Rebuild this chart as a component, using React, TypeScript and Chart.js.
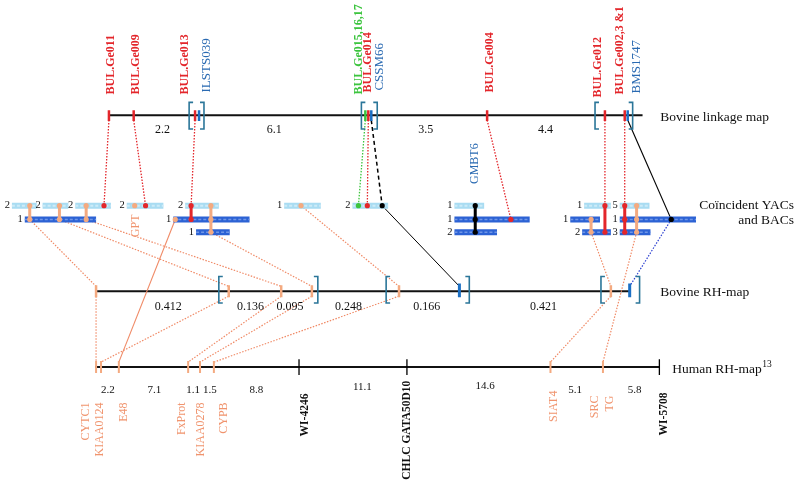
import React, { useEffect, useRef } from "react";
import { Chart, registerables } from "chart.js";
Chart.register(...registerables);

// ---------- track levels (vertical scale values) ----------
const Y_LINK = 113;
const Y_YAC = [205, 219, 232];
const Y_RH = 292;
const Y_HUM = 369;

// ---------- bovine linkage map ----------
const linkageNames = ["BUL.Ge011", "BUL.Ge009", "BUL.Ge013", "ILSTS039", "BUL.Ge015,16,17", "BUL.Ge014", "CSSM66", "BUL.Ge004", "BUL.Ge012", "BUL.Ge002,3 &1", "BMS1747"];
const linkagePos = [106, 131, 193, 197, 365, 368, 371, 488, 607, 627, 630];
const linkageKind = ["r", "r", "r", "b", "g", "r", "b", "r", "r", "r", "b"];
const linkageLabelX = [108, 133, 183, 205, 358, 368, 379, 491, 600, 622, 639];
const linkageLabelBase = [92, 92, 92, 90, 92, 90, 88, 90, 95, 92, 91];
const linkageRange = [106, 645];
const linkageBrackets = [[187, 202], [361, 377], [597, 635]];
const linkageDist = ["2.2", "6.1", "3.5", "4.4"];
const linkageDistX = [160, 273, 426, 547];

// ---------- coincident YACs and BACs ----------
const barStart = [8, 39, 72, 124, 183, 283, 352, 455, 586, 622, 21, 171, 455, 572, 622, 194, 455, 584, 622];
const barEnd = [33, 65, 108, 161, 217, 320, 388, 485, 613, 652, 93, 248, 531, 602, 699, 228, 498, 613, 653];
const barRow = [0, 0, 0, 0, 0, 0, 0, 0, 0, 0, 1, 1, 1, 1, 1, 2, 2, 2, 2];
const barCount = ["2", "2", "2", "2", "2", "1", "2", "1", "1", "5", "1", "1", "1", "1", "1", "1", "2", "2", "3"];

const orangeDots = [[26, 0], [56, 0], [83, 0], [26, 1], [56, 1], [83, 1], [132, 0], [209, 0], [209, 1], [209, 2], [173, 1], [300, 0], [593, 1], [593, 2], [639, 0], [639, 1], [639, 2]];
const redDots = [[101, 0], [143, 0], [189, 0], [189, 1], [367, 0], [512, 1], [607, 0], [607, 2], [627, 0], [627, 1], [627, 2]];
const greenDots = [[358, 0]];
const blackDots = [[382, 0], [476, 0], [476, 1], [476, 2], [674, 1]];

// vertical links inside the YAC block: [x, fromRow, toRow]
const orangeRungs = [[26, 0, 1], [56, 0, 1], [83, 0, 1], [209, 0, 2], [593, 1, 2], [639, 0, 2]];
const redRungs = [[189, 0, 1], [607, 0, 2], [627, 0, 2]];
const blackRungs = [[476, 0, 2]];

// linkage -> YAC: [linkage x, yac x, row]
const linkToYacRed = [[106, 101, 0], [131, 143, 0], [193, 189, 0], [368, 367, 0], [488, 512, 1], [607, 607, 0], [627, 627, 0]];
const linkToYacGreen = [[365, 358, 0]];
const linkToYacBlackDash = [[371, 382, 0]];
const linkToYacBlack = [[630, 674, 1]];

// ---------- bovine RH map ----------
const rhRange = [93, 632];
const rhOrangeTicks = [93, 227, 280, 311, 399, 613];
const rhBlueTicks = [460, 632];
const rhBrackets = [[217, 317], [386, 470], [603, 642]];
const rhDist = ["0.412", "0.136", "0.095", "0.248", "0.166", "0.421"];
const rhDistX = [166, 249, 289, 348, 427, 545];

// YAC -> RH: [yac x, row, rh x]
const yacToRhOrange = [[26, 1, 93], [56, 1, 227], [83, 1, 280], [209, 2, 311], [300, 0, 399], [593, 2, 613]];
const yacToRhBlack = [[382, 0, 460]];
const yacToRhBlue = [[674, 1, 632]];
// YAC -> human directly: [yac x, row, human x]
const yacToHumSolid = [[173, 1, 116]];
const yacToHumDotted = [[639, 2, 605]];

// RH -> human: [rh x, human x]
const rhToHum = [[93, 93], [227, 98], [280, 186], [311, 198], [399, 212], [613, 552]];

// ---------- human RH map ----------
const humRange = [92, 662];
const humOrangeTicks = [93, 98, 116, 186, 198, 212, 552, 605];
const humBlackTicks = [298, 407, 662];
const humNames = ["CYTC1", "KIAA0124", "E48", "FxProt", "KIAA0278", "CYPB", "WI-4246", "CHLC GATA50D10", "SIAT4", "SRC", "TG", "WI-5708"];
const humKind = ["o", "o", "o", "o", "o", "o", "k", "k", "o", "o", "o", "k"];
const humLabelX = [83, 97, 121, 180, 199, 222, 304, 407, 555, 597, 612, 667];
const humLabelTop = [405, 405, 405, 405, 405, 405, 396, 383, 393, 398, 398, 395];
const humDist = ["2.2", "7.1", "1.1", "1.5", "8.8", "11.1", "14.6", "5.1", "5.8"];
const humDistX = [105, 152, 191, 208, 255, 362, 486, 577, 637];
const humDistY = [392, 392, 392, 392, 392, 389, 388, 392, 392];

// ---------- colours ----------
const RED = "#e3262b";
const ORANGE = "#f08a66";
const ORANGE_DOT = "#f4aa80";
const ORANGE_TXT = "#f0946e";
const GREEN = "#3cc43e";
const BLUE_TXT = "#2a6ab2";
const TEAL = "#2b7699";
const TICK_BLUE = "#1b6fc4";
const LIGHT_BAR = "#a9dcf2";
const LIGHT_BAR2 = "#cdebf8";
const DARK_BAR = "#2c62d4";
const DARK_BAR2 = "#7096e6";
const SERIF = '"Liberation Serif", "DejaVu Serif", serif';

type P = { x: number | null; y: number | null };
const poly = (lines: number[][]): P[] => {
  const out: P[] = [];
  lines.forEach((l, i) => {
    if (i) out.push({ x: null, y: null });
    for (let k = 0; k < l.length; k += 2) out.push({ x: l[k], y: l[k + 1] });
  });
  return out;
};

const lineDs = (data: P[], color: string, width: number, dash: number[] = [], order = 5, cap: CanvasLineCap = "butt") => ({
  type: "scatter" as const,
  data,
  showLine: true,
  borderColor: color,
  backgroundColor: color,
  borderWidth: width,
  borderDash: dash,
  borderCapStyle: cap,
  pointRadius: 0,
  pointHoverRadius: 0,
  spanGaps: false,
  tension: 0,
  clip: false as any,
  order,
});

const dotDs = (pts: number[][], color: string) => ({
  type: "scatter" as const,
  data: pts.map(([x, r]) => ({ x, y: Y_YAC[r] })),
  showLine: false,
  pointRadius: 2.6,
  pointBorderWidth: 0,
  pointBackgroundColor: color,
  pointBorderColor: color,
  clip: false as any,
  order: 0,
});

const bracketLines = (pairs: number[][], yc: number, up: number, down: number) => {
  const out: number[][] = [];
  pairs.forEach(([a, b]) => {
    out.push([a + 4, yc - up, a, yc - up, a, yc + down, a + 4, yc + down]);
    out.push([b - 4, yc - up, b, yc - up, b, yc + down, b - 4, yc + down]);
  });
  return out;
};

function buildDatasets() {
  const ds: any[] = [];
  // dots
  ds.push(dotDs(orangeDots, ORANGE_DOT));
  ds.push(dotDs(redDots, RED));
  ds.push(dotDs(greenDots, GREEN));
  ds.push(dotDs(blackDots, "#000"));
  // rungs
  const rung = (r: number[][]) => r.map(([x, a, b]) => [x, Y_YAC[a], x, Y_YAC[b]]);
  ds.push(lineDs(poly(rung(orangeRungs)), ORANGE_DOT, 3, [], 1));
  ds.push(lineDs(poly(rung(redRungs)), RED, 3, [], 1));
  ds.push(lineDs(poly(rung(blackRungs)), "#000", 3, [], 1));
  // bars
  const barsOf = (row0: boolean) => barStart.map((s, i) => ({ s, e: barEnd[i], r: barRow[i] })).filter((b) => (row0 ? b.r === 0 : b.r > 0)).map((b) => [b.s, Y_YAC[b.r], b.e, Y_YAC[b.r]]);
  ds.push(lineDs(poly(barsOf(true)), LIGHT_BAR2, 2, [3, 2], 2));
  ds.push(lineDs(poly(barsOf(true)), LIGHT_BAR, 6, [], 3));
  ds.push(lineDs(poly(barsOf(false)), DARK_BAR2, 1.5, [3, 2], 2));
  ds.push(lineDs(poly(barsOf(false)), DARK_BAR, 6, [], 3));
  // linkage ticks
  const kindColor: Record<string, string> = { r: RED, b: TICK_BLUE, g: GREEN };
  ["r", "g", "b"].forEach((k) => {
    const t = linkagePos.filter((_, i) => linkageKind[i] === k).map((x) => [x, Y_LINK - 5, x, Y_LINK + 6]);
    ds.push(lineDs(poly(t), kindColor[k], 2.5, [], 1));
  });
  // RH ticks
  ds.push(lineDs(poly(rhOrangeTicks.map((x) => [x, Y_RH - 6, x, Y_RH + 6])), ORANGE_DOT, 2.5, [], 1));
  ds.push(lineDs(poly(rhBlueTicks.map((x) => [x, Y_RH - 8, x, Y_RH + 6])), TICK_BLUE, 3, [], 1));
  // human ticks
  ds.push(lineDs(poly(humOrangeTicks.map((x) => [x, Y_HUM - 6, x, Y_HUM + 6])), ORANGE_DOT, 2, [], 1));
  ds.push(lineDs(poly(humBlackTicks.map((x) => [x, Y_HUM - 8, x, Y_HUM + 8])), "#000", 1.3, [], 1));
  // brackets
  ds.push(lineDs(poly(bracketLines(linkageBrackets, Y_LINK, 13, 14)), TEAL, 1.6, [], 2));
  ds.push(lineDs(poly(bracketLines(rhBrackets, Y_RH, 15, 12)), TEAL, 1.6, [], 2));
  // connectors linkage -> YAC
  const ly = (arr: number[][]) => arr.map(([a, b, r]) => [a, Y_LINK + 5, b, Y_YAC[r]]);
  ds.push(lineDs(poly(ly(linkToYacRed)), RED, 1.3, [1.5, 1.5], 4));
  ds.push(lineDs(poly(ly(linkToYacGreen)), GREEN, 1.3, [1.5, 1.5], 4));
  ds.push(lineDs(poly(ly(linkToYacBlackDash)), "#000", 1.5, [4, 3], 4));
  ds.push(lineDs(poly(ly(linkToYacBlack)), "#000", 1.1, [], 4));
  // YAC -> RH
  const yr = (arr: number[][]) => arr.map(([a, r, b]) => [a, Y_YAC[r], b, Y_RH - 5]);
  ds.push(lineDs(poly(yr(yacToRhOrange)), ORANGE, 1.2, [1.5, 1.5], 4));
  ds.push(lineDs(poly(yr(yacToRhBlack)), "#000", 1, [], 4));
  ds.push(lineDs(poly(yr(yacToRhBlue)), "#2b3fd0", 1.2, [1.5, 1.5], 4));
  // YAC -> human
  const yh = (arr: number[][]) => arr.map(([a, r, b]) => [a, Y_YAC[r], b, Y_HUM - 5]);
  ds.push(lineDs(poly(yh(yacToHumSolid)), ORANGE, 1.1, [], 4));
  ds.push(lineDs(poly(yh(yacToHumDotted)), ORANGE, 1.2, [1.5, 1.5], 4));
  // RH -> human
  ds.push(lineDs(poly(rhToHum.map(([a, b]) => [a, Y_RH + 5, b, Y_HUM - 5])), ORANGE, 1.2, [1.5, 1.5], 4));
  // main map lines
  ds.push(lineDs(poly([[linkageRange[0], Y_LINK, linkageRange[1], Y_LINK]]), "#111", 2, [], 6));
  ds.push(lineDs(poly([[rhRange[0], Y_RH, rhRange[1], Y_RH]]), "#111", 2, [], 6));
  ds.push(lineDs(poly([[humRange[0], Y_HUM, humRange[1], Y_HUM]]), "#111", 2, [], 6));
  return ds;
}

function vtext(ctx: CanvasRenderingContext2D, s: string, px: number, py: number, align: CanvasTextAlign, font: string, color: string) {
  ctx.save();
  ctx.translate(px, py);
  ctx.rotate(-Math.PI / 2);
  ctx.textAlign = align;
  ctx.textBaseline = "middle";
  ctx.font = font;
  ctx.fillStyle = color;
  ctx.fillText(s, 0, 0);
  ctx.restore();
}

function htext(ctx: CanvasRenderingContext2D, s: string, px: number, py: number, align: CanvasTextAlign, font: string, color: string) {
  ctx.save();
  ctx.textAlign = align;
  ctx.textBaseline = "middle";
  ctx.font = font;
  ctx.fillStyle = color;
  ctx.fillText(s, px, py);
  ctx.restore();
}

const textPlugin = {
  id: "mapTexts",
  afterDatasetsDraw(chart: any) {
    const ctx: CanvasRenderingContext2D = chart.ctx;
    const xs = chart.scales.x;
    const ys = chart.scales.y;
    const X = (v: number) => xs.getPixelForValue(v);
    const Y = (v: number) => ys.getPixelForValue(v);
    const kindColor: Record<string, string> = { r: RED, b: BLUE_TXT, g: GREEN };
    // linkage labels
    linkageNames.forEach((n, i) => {
      const k = linkageKind[i];
      const font = k === "b" ? `13px ${SERIF}` : `bold 12px ${SERIF}`;
      vtext(ctx, n, X(linkageLabelX[i]), Y(linkageLabelBase[i]), "left", font, kindColor[k]);
    });
    linkageDist.forEach((d, i) => htext(ctx, d, X(linkageDistX[i]), Y(Y_LINK + 15), "center", `12px ${SERIF}`, "#111"));
    htext(ctx, "Bovine linkage map", X(663), Y(Y_LINK + 2), "left", `13.5px ${SERIF}`, "#111");
    // YAC numbers
    barStart.forEach((s, i) => htext(ctx, barCount[i], X(s - 2), Y(Y_YAC[barRow[i]]), "right", `10.5px ${SERIF}`, "#111"));
    vtext(ctx, "GPT", X(133), Y(214), "right", `12px ${SERIF}`, ORANGE_TXT);
    vtext(ctx, "GMBT6", X(476), Y(183), "left", `12px ${SERIF}`, BLUE_TXT);
    htext(ctx, "Coïncident YACs", X(798), Y(205), "right", `13.5px ${SERIF}`, "#111");
    htext(ctx, "and BACs", X(798), Y(220), "right", `13.5px ${SERIF}`, "#111");
    // RH
    rhDist.forEach((d, i) => htext(ctx, d, X(rhDistX[i]), Y(Y_RH + 16), "center", `12px ${SERIF}`, "#111"));
    htext(ctx, "Bovine RH-map", X(663), Y(Y_RH + 1), "left", `13.5px ${SERIF}`, "#111");
    // Human
    humDist.forEach((d, i) => htext(ctx, d, X(humDistX[i]), Y(humDistY[i]), "center", `11px ${SERIF}`, "#111"));
    humNames.forEach((n, i) => {
      const k = humKind[i];
      const font = k === "k" ? `bold 11.5px ${SERIF}` : `12px ${SERIF}`;
      vtext(ctx, n, X(humLabelX[i]), Y(humLabelTop[i]), "right", font, k === "k" ? "#111" : ORANGE_TXT);
    });
    ctx.save();
    ctx.font = `13.5px ${SERIF}`;
    ctx.fillStyle = "#111";
    ctx.textBaseline = "middle";
    ctx.textAlign = "left";
    const hx = X(675);
    const hy = Y(Y_HUM + 2);
    ctx.fillText("Human RH-map", hx, hy);
    const w = ctx.measureText("Human RH-map").width;
    ctx.font = `9.5px ${SERIF}`;
    ctx.fillText("13", hx + w + 0.5, hy - 4);
    ctx.restore();
  },
};

export default function App() {
  const ref = useRef<HTMLCanvasElement | null>(null);
  useEffect(() => {
    document.body.style.margin = "0";
    document.body.style.background = "#fff";
    if (!ref.current) return;
    const chart = new Chart(ref.current, {
      type: "scatter",
      data: { datasets: buildDatasets() },
      options: {
        animation: false,
        responsive: false,
        devicePixelRatio: 1,
        events: [],
        layout: { padding: 0 },
        scales: {
          x: { type: "linear", min: 0, max: 800, display: false },
          y: { type: "linear", min: 0, max: 493, reverse: true, display: false },
        },
        plugins: { legend: { display: false }, tooltip: { enabled: false } },
      },
      plugins: [textPlugin],
    } as any);
    return () => chart.destroy();
  }, []);
  return (
    <div style={{ width: 800, height: 493, background: "#fff" }}>
      <canvas ref={ref} width={800} height={493} style={{ display: "block" }} />
    </div>
  );
}
